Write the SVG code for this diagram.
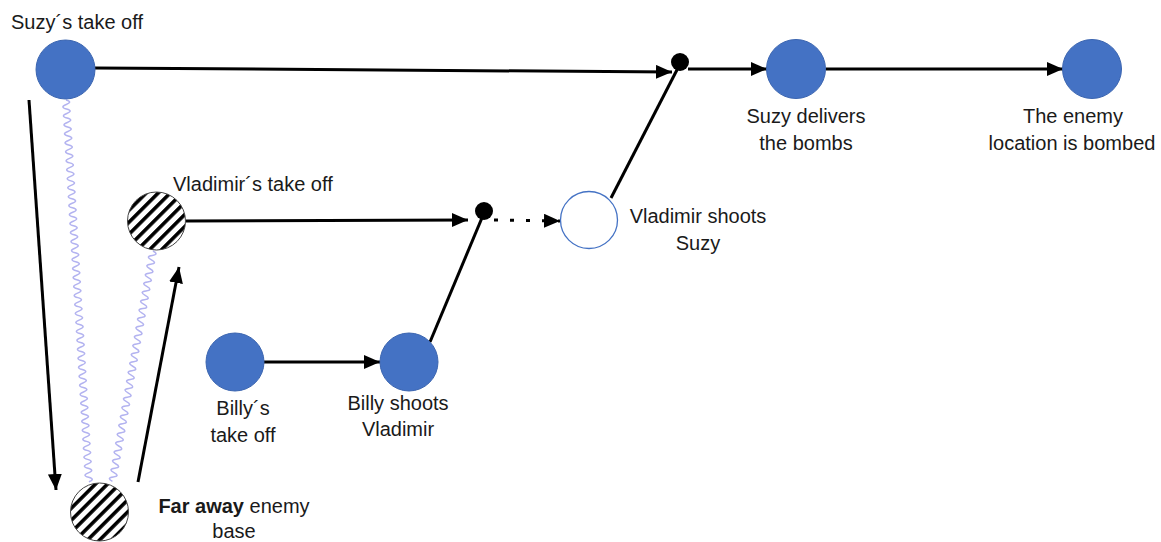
<svg xmlns="http://www.w3.org/2000/svg" width="1161" height="542" viewBox="0 0 1161 542">
<style>
.lbl{font-family:"Liberation Sans",Arial,sans-serif;font-size:20px;fill:#1a1a1a}
.mid{text-anchor:middle}
.blue{fill:#4472c4;stroke:#3b65b0;stroke-width:1}
.hatch{fill:url(#hatch);stroke:#444;stroke-width:1}
.edge{stroke:#000;stroke-width:3;fill:none}
.wave{stroke:#b3b3f0;stroke-width:1.5;fill:none}
</style>
<defs>
<pattern id="hatch" patternUnits="userSpaceOnUse" width="8.5" height="8.5" patternTransform="rotate(45)">
<rect width="8.5" height="8.5" fill="#fff"/>
<rect width="3.6" height="8.5" fill="#000"/>
</pattern>
<marker id="arr" markerUnits="userSpaceOnUse" markerWidth="18" markerHeight="16" refX="16" refY="7" orient="auto">
<path d="M0,0 L16,7 L0,14 z" fill="#000"/>
</marker>
</defs>

<g id="connectors">
<line class="edge" x1="95" y1="68" x2="672" y2="72" marker-end="url(#arr)"/>
<line class="edge" x1="688" y1="69" x2="767" y2="69" marker-end="url(#arr)"/>
<line class="edge" x1="826" y1="69" x2="1063" y2="69" marker-end="url(#arr)"/>
<line class="edge" x1="611" y1="198" x2="680" y2="64"/>
<line class="edge" x1="186" y1="221" x2="468" y2="220" marker-end="url(#arr)"/>
<line class="edge" x1="494" y1="220" x2="560" y2="221" stroke-dasharray="4,12" marker-end="url(#arr)"/>
<line class="edge" x1="430" y1="342" x2="484" y2="213"/>
<line class="edge" x1="264" y1="362" x2="380" y2="362" marker-end="url(#arr)"/>
<line class="edge" x1="29" y1="100" x2="56" y2="490" marker-end="url(#arr)"/>
<line class="edge" x1="138" y1="482" x2="179" y2="267" marker-end="url(#arr)"/>
<path class="wave" transform="translate(66,100) rotate(-3.43)" d="M0,0 q7,2.25 0,4.5 t0,4.5t0,4.5t0,4.5t0,4.5t0,4.5t0,4.5t0,4.5t0,4.5t0,4.5t0,4.5 t0,4.5t0,4.5t0,4.5t0,4.5t0,4.5t0,4.5t0,4.5t0,4.5t0,4.5t0,4.5 t0,4.5t0,4.5t0,4.5t0,4.5t0,4.5t0,4.5t0,4.5t0,4.5t0,4.5t0,4.5 t0,4.5t0,4.5t0,4.5t0,4.5t0,4.5t0,4.5t0,4.5t0,4.5t0,4.5t0,4.5 t0,4.5t0,4.5t0,4.5t0,4.5t0,4.5t0,4.5t0,4.5t0,4.5t0,4.5t0,4.5 t0,4.5t0,4.5t0,4.5t0,4.5t0,4.5t0,4.5t0,4.5t0,4.5t0,4.5t0,4.5 t0,4.5t0,4.5t0,4.5t0,4.5t0,4.5t0,4.5t0,4.5t0,4.5t0,4.5t0,4.5 t0,4.5t0,4.5t0,4.5t0,4.5t0,4.5t0,4.5t0,4.5t0,4.5t0,4.5t0,4.5 t0,4.5t0,4.5t0,4.5t0,4.5"/>
<path class="wave" transform="translate(153,251) rotate(9.98)" d="M0,0 q7,2.25 0,4.5 t0,4.5t0,4.5t0,4.5t0,4.5t0,4.5t0,4.5t0,4.5t0,4.5t0,4.5t0,4.5 t0,4.5t0,4.5t0,4.5t0,4.5t0,4.5t0,4.5t0,4.5t0,4.5t0,4.5t0,4.5 t0,4.5t0,4.5t0,4.5t0,4.5t0,4.5t0,4.5t0,4.5t0,4.5t0,4.5t0,4.5 t0,4.5t0,4.5t0,4.5t0,4.5t0,4.5t0,4.5t0,4.5t0,4.5t0,4.5t0,4.5 t0,4.5t0,4.5t0,4.5t0,4.5t0,4.5t0,4.5t0,4.5t0,4.5t0,4.5t0,4.5 t0,4.5"/>
</g>

<g id="suzy-takeoff">
<circle class="blue" cx="65.5" cy="69.5" r="29.5"/>
<text class="lbl mid" x="77" y="29">Suzy´s take off</text>
</g>
<g id="vladimir-takeoff">
<circle class="hatch" cx="156.5" cy="221" r="29"/>
<text class="lbl" x="173" y="191">Vladimir´s take off</text>
</g>
<g id="enemy-base">
<circle class="hatch" cx="99.5" cy="512" r="29"/>
<text class="lbl mid" x="234" y="513"><tspan font-weight="bold">Far away</tspan> enemy</text>
<text class="lbl mid" x="234" y="538">base</text>
</g>
<g id="billy-takeoff">
<circle class="blue" cx="235" cy="362" r="29"/>
<text class="lbl mid" x="243" y="415">Billy´s</text>
<text class="lbl mid" x="243" y="442">take off</text>
</g>
<g id="billy-shoots">
<circle class="blue" cx="409" cy="362" r="29"/>
<text class="lbl mid" x="398" y="410">Billy shoots</text>
<text class="lbl mid" x="398" y="436">Vladimir</text>
</g>
<g id="junction-1">
<circle cx="484" cy="211" r="9" fill="#000"/>
</g>
<g id="vladimir-shoots">
<circle cx="589" cy="220" r="28.5" fill="#fff" stroke="#4472c4" stroke-width="1.3"/>
<text class="lbl mid" x="698" y="223">Vladimir shoots</text>
<text class="lbl mid" x="698" y="250">Suzy</text>
</g>
<g id="junction-2">
<circle cx="680" cy="62" r="9" fill="#000"/>
</g>
<g id="suzy-delivers">
<circle class="blue" cx="796" cy="69" r="29.5"/>
<text class="lbl mid" x="806" y="123">Suzy delivers</text>
<text class="lbl mid" x="806" y="150">the bombs</text>
</g>
<g id="bombed">
<circle class="blue" cx="1092" cy="69" r="29.5"/>
<text class="lbl mid" x="1073" y="123">The enemy</text>
<text class="lbl mid" x="1072" y="150">location is bombed</text>
</g>
</svg>
